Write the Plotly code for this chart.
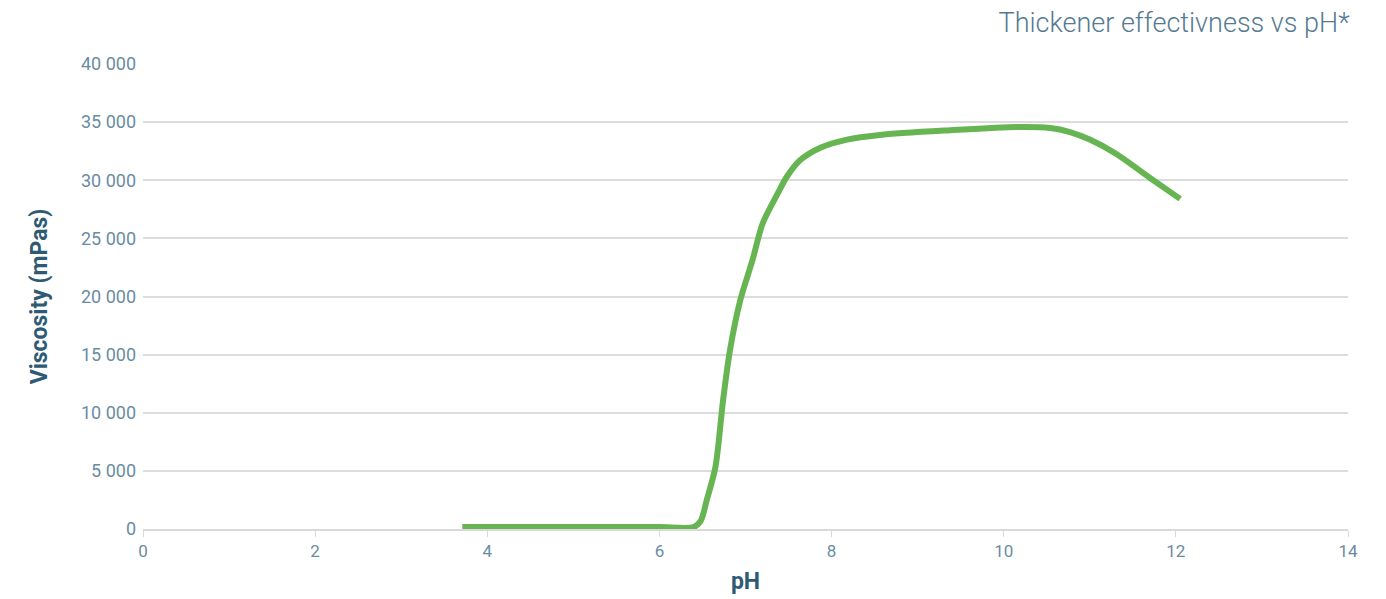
import plotly.graph_objects as go

ph = [3.71, 4.5, 5.3, 6.0, 6.40, 6.48, 6.55, 6.65, 6.74, 6.82, 6.94, 7.08, 7.20, 7.37, 7.48, 7.63, 7.87, 8.18, 8.56, 9.38, 10.15, 10.54, 10.77, 11.00, 11.30, 11.70, 12.05]
viscosity = [170, 170, 170, 170, 170, 700, 2500, 5300, 11100, 15400, 19700, 23100, 26300, 28800, 30300, 31700, 32800, 33500, 33900, 34300, 34580, 34500, 34150, 33500, 32300, 30200, 28400]

x_ticks = [0, 2, 4, 6, 8, 10, 12, 14]
y_ticks = [0, 5000, 10000, 15000, 20000, 25000, 30000, 35000, 40000]

tick_color = "#6a8ca3"
title_color = "#2f5a74"
font = "Roboto"

fig = go.Figure()
fig.add_trace(go.Scatter(
    x=ph, y=viscosity, mode="lines",
    line=dict(color="#66b552", width=6, shape="spline", smoothing=0.8),
    hoverinfo="x+y", showlegend=False,
))

fig.update_layout(
    width=1386, height=599,
    paper_bgcolor="white", plot_bgcolor="white",
    margin=dict(l=135, r=46, t=56, b=78),
    separators=". ",
    font=dict(family=font, color=tick_color),
    title=dict(text="Thickener effectivness vs pH*", x=0.968, xanchor="right", y=0.975, yanchor="middle",
               font=dict(family=font, size=27, color="#557a92", weight=300)),
    xaxis=dict(range=[0, 14], tickvals=x_ticks, showgrid=False, zeroline=False,
               showline=True, linecolor="#d9d9d9", linewidth=2,
               ticks="outside", ticklen=6, tickcolor="#d9d9d9", tickwidth=1,
               tickfont=dict(size=17, color=tick_color),
               title=dict(text="pH", font=dict(size=23, color=title_color, weight="bold"), standoff=12)),
    yaxis=dict(range=[0, 40000], tickvals=y_ticks, tickformat=",d", showgrid=True, gridcolor="#dcdcdc", gridwidth=1.5,
               zeroline=False, showline=False, ticks="", ticklabelstandoff=6,
               tickfont=dict(size=18, color=tick_color),
               title=dict(text="Viscosity (mPas)", font=dict(size=23, color=title_color, weight="bold"), standoff=26)),
)

fig.write_html("out.html")
